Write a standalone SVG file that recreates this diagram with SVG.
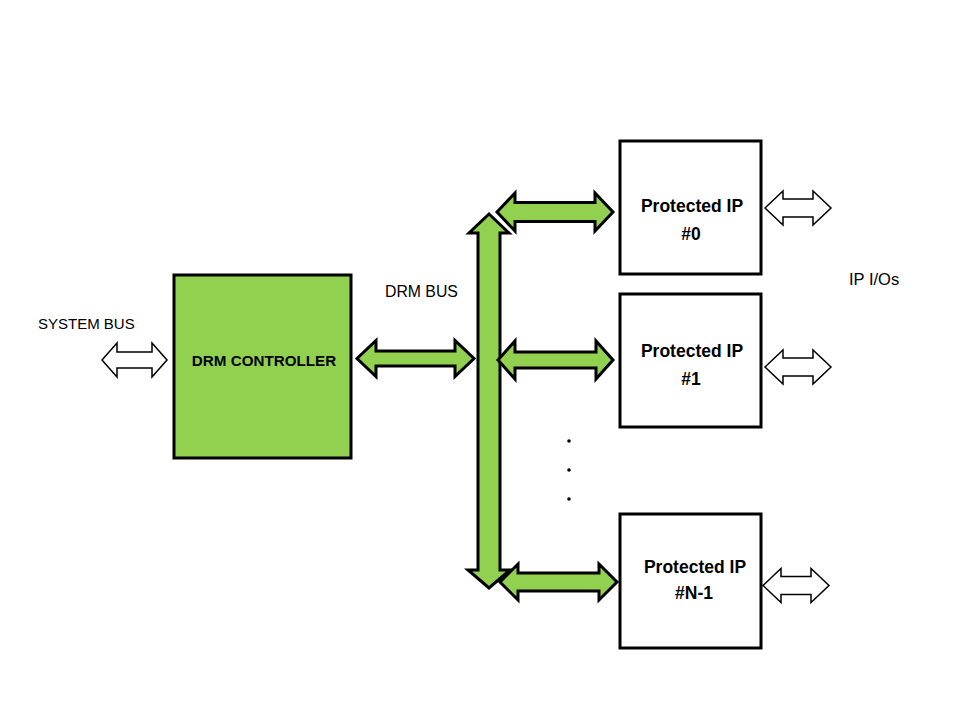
<svg xmlns="http://www.w3.org/2000/svg" width="960" height="720" viewBox="0 0 960 720">
<style>
.box{stroke:#000;stroke-width:3}
.g{fill:#92D050;stroke:#000;stroke-width:3;stroke-linejoin:miter}
.w{fill:#fff;stroke:#000;stroke-width:1.5;stroke-linejoin:miter}
.lbl{font-family:"Liberation Sans",Arial,sans-serif;font-size:15px;fill:#000}
.bold{font-family:"Liberation Sans",Arial,sans-serif;font-size:17.5px;font-weight:bold;fill:#000;text-anchor:middle}
</style>
<rect width="960" height="720" fill="#fff"/>
<g id="connectors">
  <polygon class="w" points="102,360 117,343 117,352 152,352 152,343 167,360 152,377 152,368 117,368 117,377"/>
  <polygon class="g" points="357,358.5 376,340.5 376,351 455,351 455,340.5 474,358.5 455,376.5 455,366 376,366 376,376.5"/>
  <polygon class="g" points="489,214 509,233 500,233 500,570 510,570 489,588 468,570 478,570 478,233 469,233"/>
  <polygon class="g" points="497,212 515,193 515,202.5 595,202.5 595,193 613,212 595,231 595,221.5 515,221.5 515,231"/>
  <polygon class="g" points="498,360 515,341 515,352 596,352 596,341 613,360 596,379 596,368 515,368 515,379"/>
  <polygon class="g" points="500,582 518,564 518,573 599,573 599,564 617,582 599,600 599,591 518,591 518,600"/>
  <polygon class="w" points="765,208 783,191 783,199 813,199 813,191 831,208 813,225 813,217 783,217 783,225"/>
  <polygon class="w" points="765,367 783,350 783,358 813,358 813,350 831,367 813,384 813,376 783,376 783,384"/>
  <polygon class="w" points="763,585.5 781,568.5 781,576.5 811,576.5 811,568.5 829,585.5 811,602.5 811,594.5 781,594.5 781,602.5"/>
</g>
<g id="drm-controller">
  <rect class="box" x="174" y="275" width="177" height="183" fill="#92D050"/>
  <text class="bold" x="264" y="366" style="font-size:15.2px">DRM CONTROLLER</text>
</g>
<g id="ip0">
  <rect class="box" x="620" y="141" width="141" height="133" fill="#fff"/>
  <text class="bold" x="692" y="212">Protected IP</text>
  <text class="bold" x="691" y="240">#0</text>
</g>
<g id="ip1">
  <rect class="box" x="620" y="294" width="141" height="133" fill="#fff"/>
  <text class="bold" x="692" y="357">Protected IP</text>
  <text class="bold" x="691" y="385">#1</text>
</g>
<g id="ipn1">
  <rect class="box" x="620" y="514" width="141" height="134" fill="#fff"/>
  <text class="bold" x="695" y="573">Protected IP</text>
  <text class="bold" x="694" y="599">#N-1</text>
</g>
<g id="labels">
  <text class="lbl" x="38" y="329">SYSTEM BUS</text>
  <text class="lbl" x="385" y="297" style="font-size:15.8px">DRM BUS</text>
  <text class="lbl" x="849" y="285" style="font-size:16.5px">IP I/Os</text>
  <circle cx="569" cy="441" r="1.8" fill="#000"/>
  <circle cx="569" cy="470" r="1.8" fill="#000"/>
  <circle cx="569" cy="499" r="1.8" fill="#000"/>
</g>
</svg>
